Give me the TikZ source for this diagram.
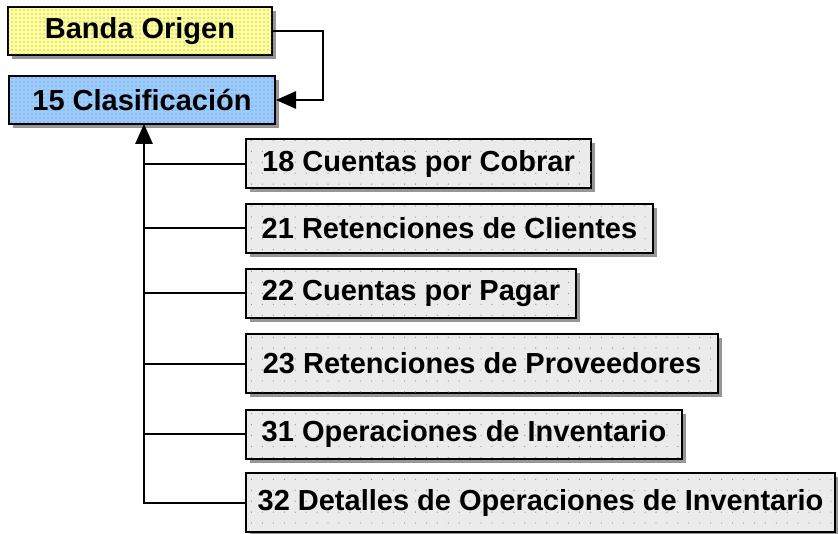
\documentclass[tikz,border=0pt]{standalone}
\usepackage{fontspec}
\setmainfont{Liberation Sans}
\usetikzlibrary{arrows.meta,shadows,patterns.meta}
\definecolor{ybg}{RGB}{255,255,153}
\definecolor{bbg}{RGB}{153,204,255}
\definecolor{gbg}{RGB}{235,235,235}
\definecolor{dotc}{RGB}{128,128,128}
\definecolor{shd}{RGB}{150,150,150}
\tikzset{
  box/.style={draw=black, line width=1.5pt, inner sep=0pt,
    font=\fontsize{21.75}{24}\selectfont\bfseries,
    drop shadow={shadow xshift=3pt, shadow yshift=-3pt, fill=shd, opacity=1}},
  ybox/.style={box, fill=ybg, minimum height=36pt,
    postaction={pattern={Dots[distance=3pt,radius=0.4pt]}, pattern color=dotc}},
  bbox/.style={box, fill=bbg, minimum height=36pt,
    postaction={pattern={Dots[distance=3pt,radius=0.4pt]}, pattern color=dotc}},
  gbox/.style={box, fill=gbg, minimum height=36.75pt,
    postaction={pattern={Dots[distance=8.2pt,radius=0.5pt]}, pattern color=dotc!80}},
  conn/.style={line width=1.5pt, draw=black},
  tip/.style={-{Triangle[length=15pt,width=13pt]}}
}
\begin{document}
\begin{tikzpicture}[x=0.75pt,y=-0.75pt]
\useasboundingbox (0,0) rectangle (838,534);
\node[ybox, minimum width=198pt] (banda) at (140,31) {Banda Origen};
\node[bbox, minimum width=199.5pt] (clas) at (142,100) {15 Clasificación};
\node[gbox, minimum width=258.75pt] (n18) at (418.5,164) {18 Cuentas por Cobrar};
\node[gbox, minimum width=305.25pt] (n21) at (449.5,228.5) {21 Retenciones de Clientes};
\node[gbox, minimum width=247.5pt] (n22) at (411,293.5) {22 Cuentas por Pagar};
\node[gbox, minimum width=354pt, minimum height=44.25pt] (n23) at (482,363.5) {23 Retenciones de Proveedores};
\node[gbox, minimum width=327pt] (n31) at (464,434) {31 Operaciones de Inventario};
\node[gbox, minimum width=441.75pt, minimum height=44.25pt] (n32) at (540.5,502.5) {32 Detalles de Operaciones de Inventario};
\coordinate (bend) at (323,31);
\coordinate (trunk) at (144,124);
\draw[conn, tip] (banda.east) -- (bend) |- (clas.east);
\draw[conn, tip] (n32.west) -| (trunk);
\foreach \n in {n18,n21,n22,n23,n31}
  \draw[conn] (\n.west) -- (\n.west -| trunk);
\end{tikzpicture}
\end{document}
